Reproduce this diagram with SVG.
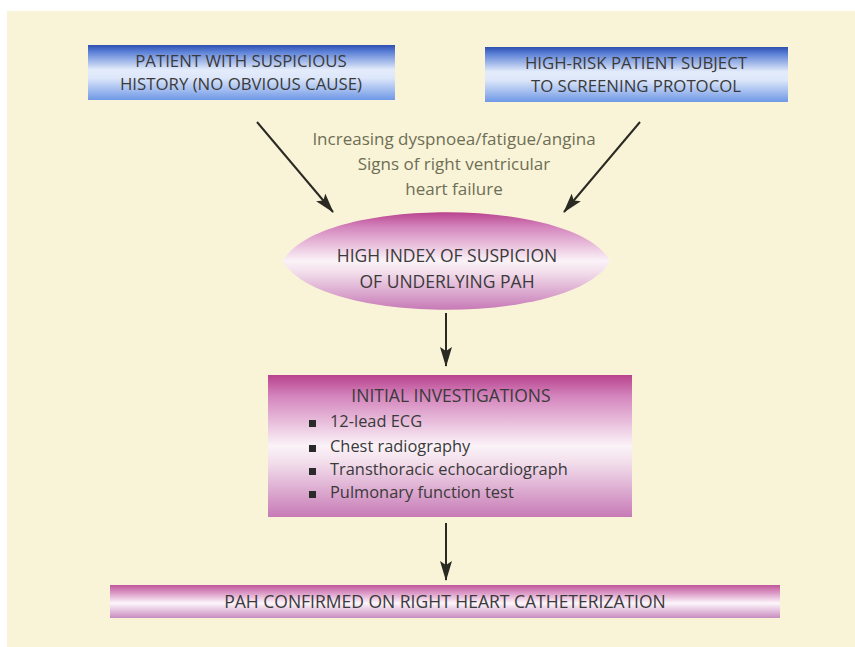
<svg xmlns="http://www.w3.org/2000/svg" width="855" height="647" viewBox="0 0 855 647">
<defs>
<linearGradient id="gBlue" x1="0" y1="0" x2="0" y2="1">
<stop offset="0" stop-color="#2f4fb0"/>
<stop offset="0.12" stop-color="#5a7fd6"/>
<stop offset="0.45" stop-color="#e4ecfb"/>
<stop offset="0.6" stop-color="#dde7fa"/>
<stop offset="1" stop-color="#6f98e6"/>
</linearGradient>
<linearGradient id="gPink" x1="0" y1="0" x2="0" y2="1">
<stop offset="0" stop-color="#b9438e"/>
<stop offset="0.15" stop-color="#d485bd"/>
<stop offset="0.5" stop-color="#fbf3f8"/>
<stop offset="0.62" stop-color="#f2ddeb"/>
<stop offset="1" stop-color="#c77ab6"/>
</linearGradient>
<linearGradient id="gBar" x1="0" y1="0" x2="0" y2="1">
<stop offset="0" stop-color="#c0579a"/>
<stop offset="0.25" stop-color="#dc9bc8"/>
<stop offset="0.55" stop-color="#fdf6fb"/>
<stop offset="1" stop-color="#c98cc0"/>
</linearGradient>
<marker id="ah" viewBox="0 0 20 12" refX="19" refY="6" markerWidth="10" markerHeight="6" orient="auto" markerUnits="strokeWidth">
<path d="M0,0 L20,6 L0,12 L4,6 Z" fill="#2a2a22"/>
</marker>
<style>
.t{font-family:"Open Sans","Liberation Sans",sans-serif;fill:#3a3a3a;}
.cap{font-size:17.5px;text-anchor:middle;}
.top{font-size:16.8px;}
.lbl{font-family:"Open Sans","Liberation Sans",sans-serif;fill:#6e6e55;font-size:17px;text-anchor:middle;}
.item{font-size:16.4px;}
.conn{stroke:#2a2a22;stroke-width:2;fill:none;marker-end:url(#ah);}
</style>
</defs>
<rect x="0" y="0" width="855" height="647" fill="#ffffff"/>
<rect x="7" y="11" width="848" height="636" fill="#f9f4d8"/>

<g id="node-history">
<rect x="88" y="45" width="307" height="55" fill="url(#gBlue)"/>
<text class="t cap top" x="241" y="67">PATIENT WITH SUSPICIOUS</text>
<text class="t cap top" x="241" y="90">HISTORY (NO OBVIOUS CAUSE)</text>
</g>

<g id="node-highrisk">
<rect x="485" y="47" width="303" height="55" fill="url(#gBlue)"/>
<text class="t cap top" x="636" y="69">HIGH-RISK PATIENT SUBJECT</text>
<text class="t cap top" x="636" y="92">TO SCREENING PROTOCOL</text>
</g>

<g id="label-symptoms">
<text class="lbl" x="454" y="145">Increasing dyspnoea/fatigue/angina</text>
<text class="lbl" x="454" y="170">Signs of right ventricular</text>
<text class="lbl" x="454" y="195">heart failure</text>
</g>

<g id="node-suspicion">
<path d="M283,261 C318,196 575,196 610,261 C575,326 318,326 283,261 Z" fill="url(#gPink)"/>
<text class="t cap" x="447" y="262">HIGH INDEX OF SUSPICION</text>
<text class="t cap" x="447" y="288">OF UNDERLYING PAH</text>
</g>

<g id="node-investigations">
<rect x="268" y="375" width="364" height="142" fill="url(#gPink)"/>
<text class="t cap" x="451" y="402">INITIAL INVESTIGATIONS</text>
<rect x="309" y="420" width="7" height="7" fill="#2a2a2a"/>
<rect x="309" y="445" width="7" height="7" fill="#2a2a2a"/>
<rect x="309" y="468" width="7" height="7" fill="#2a2a2a"/>
<rect x="309" y="491" width="7" height="7" fill="#2a2a2a"/>
<text class="t item" x="330" y="427">12-lead ECG</text>
<text class="t item" x="330" y="452">Chest radiography</text>
<text class="t item" x="330" y="475">Transthoracic echocardiograph</text>
<text class="t item" x="330" y="498">Pulmonary function test</text>
</g>

<g id="node-confirmed">
<rect x="110" y="585" width="670" height="33" fill="url(#gBar)"/>
<text class="t cap" x="445" y="608">PAH CONFIRMED ON RIGHT HEART CATHETERIZATION</text>
</g>

<g id="connectors">
<line class="conn" x1="257" y1="122" x2="333" y2="212"/>
<line class="conn" x1="640" y1="122" x2="564" y2="212"/>
<line class="conn" x1="446" y1="313" x2="446" y2="366"/>
<line class="conn" x1="446" y1="523" x2="446" y2="580"/>
</g>
</svg>
